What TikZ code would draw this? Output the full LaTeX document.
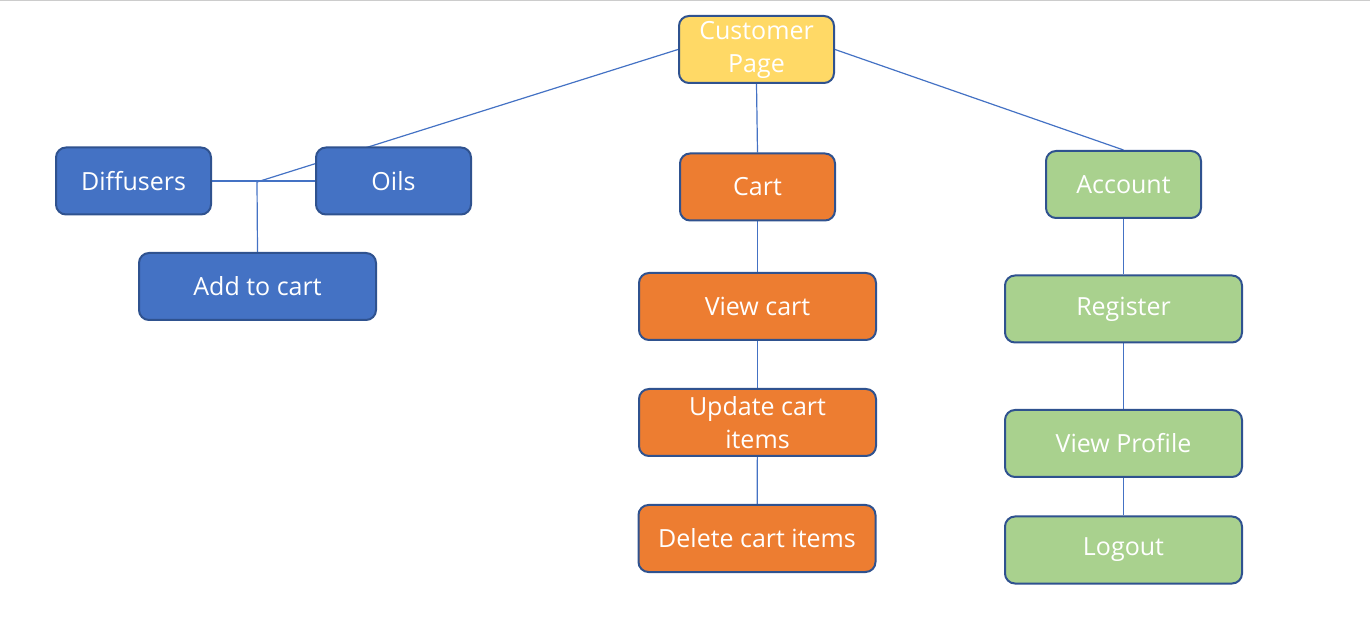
\documentclass[tikz,border=0pt]{standalone}
\usepackage{fontspec}
\setmainfont{Open Sans}
\usetikzlibrary{backgrounds}

\definecolor{rim}{HTML}{2F528F}
\definecolor{wire}{HTML}{4472C4}
\definecolor{bluebox}{HTML}{4472C4}
\definecolor{orangebox}{HTML}{ED7D31}
\definecolor{greenbox}{HTML}{A9D18E}
\definecolor{yellowbox}{HTML}{FFD966}

\begin{document}
\begin{tikzpicture}[
  x=0.5pt, y=-0.5pt,
  box/.style      = {draw=rim, line width=1pt, rounded corners=5pt, text=white,
                     font=\fontsize{12.5}{16.5}\selectfont, align=center,
                     minimum height=33.5pt, inner sep=2pt},
  short/.style    = {box, minimum width=77.5pt},
  long/.style     = {box, minimum width=118.5pt},
  shop/.style     = {fill=bluebox},
  cartbox/.style  = {fill=orangebox},
  accbox/.style   = {fill=greenbox},
  top/.style      = {fill=yellowbox},
  link/.style     = {draw=wire, line width=0.6pt},
]
  \useasboundingbox (0,0) rectangle (1370,635);
  \draw[black!20, line width=1pt] (0,0.5) -- (1370,0.5);

  \node[short,top] (cust) at (756.5,49.5) {Customer\\Page};

  % products
  \node[short,shop] (diff) at (133.5,181) {Diffusers};
  \node[short,shop] (oils) at (393.5,181) {Oils};
  \node[long,shop]  (add)  at (257.5,286.5) {Add to cart};
  \coordinate (fork) at (257,182);

  % cart
  \node[short,cartbox] (cart)   at (757.5,187)   {Cart};
  \node[long,cartbox]  (view)   at (757.5,306.5) {View cart};
  \node[long,cartbox]  (update) at (757.5,422.5) {Update cart\\items};
  \node[long,cartbox]  (delete) at (757,538.5)   {Delete cart items};

  % account
  \node[short,accbox] (acc)     at (1123.5,184.5) {Account};
  \node[long,accbox]  (reg)     at (1123.5,309)   {Register};
  \node[long,accbox]  (profile) at (1123.5,443.5) {View Profile};
  \node[long,accbox]  (logout)  at (1123.5,550)   {Logout};

  \begin{scope}[on background layer]
    \draw[link] (cust.west) -- (fork);
    \draw[link] (diff.east) -- (oils.west);
    \draw[link] (fork) -- (add.north);
    \draw[link] (cust.east) -- (acc.north);
    \draw[link] (cust.south) -- (cart.north);
    \draw[link] (cart) -- (view);
    \draw[link] (view) -- (update);
    \draw[link] (update) -- (delete);
    \draw[link] (acc) -- (reg);
    \draw[link] (reg) -- (profile);
    \draw[link] (profile) -- (logout);
  \end{scope}
\end{tikzpicture}
\end{document}
